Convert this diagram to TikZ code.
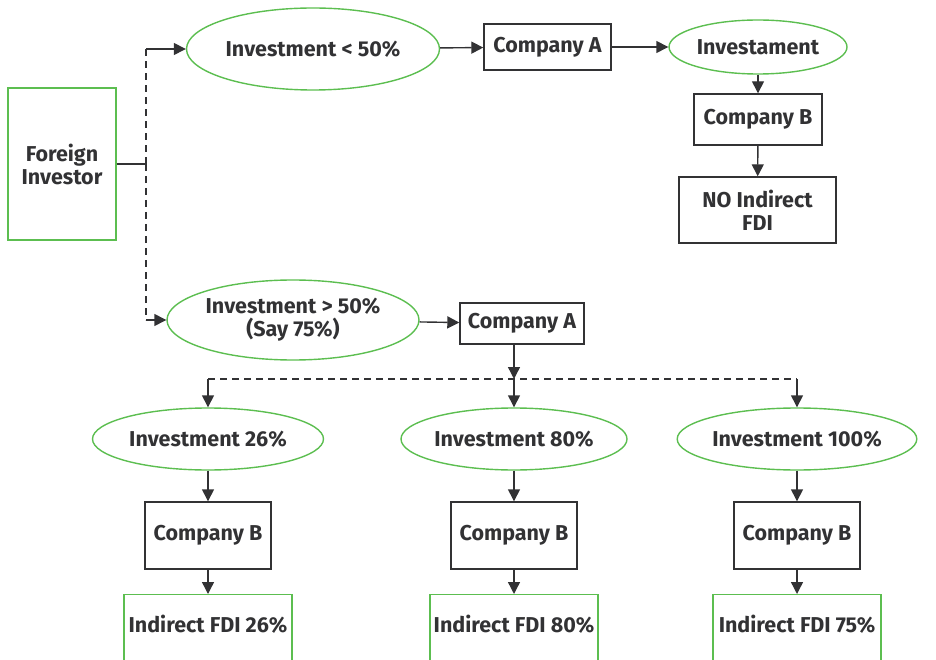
\documentclass[tikz,border=0pt]{standalone}
\usepackage{fontspec}
\setmainfont{Fira Sans}
\usetikzlibrary{arrows.meta, positioning, shapes, calc}
\definecolor{fdigreen}{RGB}{92,190,80}
\definecolor{fdigray}{RGB}{50,50,52}

\tikzset{
  oval/.style={ellipse, draw=fdigreen, line width=1.4pt, inner sep=0pt, text=fdigray,
    font=\fontsize{21.5}{23}\selectfont\bfseries, align=center},
  firm/.style={rectangle, draw=fdigray, line width=1.4pt, inner sep=0pt, text=fdigray,
    font=\fontsize{21.5}{23}\selectfont\bfseries, align=center},
  result/.style={rectangle, draw=fdigreen, line width=1.4pt, inner sep=0pt, text=fdigray,
    font=\fontsize{21.5}{23}\selectfont\bfseries, align=center},
  link/.style={draw=fdigray, line width=1.4pt, -{Triangle[length=12pt,width=12pt]}},
  plain/.style={draw=fdigray, line width=1.4pt},
  split/.style={draw=fdigray, line width=1.4pt, dash pattern=on 7pt off 5pt},
}

\begin{document}
\begin{tikzpicture}[x=10pt,y=10pt]
    \useasboundingbox (0,0) rectangle (93.6,-66);
    \clip (0,0) rectangle (93.6,-66);
    % investor and the two branches
    \node[result, minimum width=108pt, minimum height=152pt] (inv) at (6.2,-16.4) {Foreign\\Investor};
    \coordinate (fork) at (14.6,-16.4);
    \node[oval, minimum width=253pt, minimum height=82pt] (low) at (31.3,-4.9) {Investment < 50\%};
    \node[oval, minimum width=252pt, minimum height=80pt] (high) at (29.3,-32.0) {Investment > 50\%\\(Say 75\%)};
    \draw[plain] (inv.east) -- (fork);
    \draw[split] (fork) -- (fork |- low.west);
    \draw[split] (fork) -- (fork |- high.west);
    \draw[link] (fork |- low.west) -- (low.west);
    \draw[link] (fork |- high.west) -- (high.west);
    %
    \node[firm, minimum width=127pt, minimum height=46pt] (lowA) at (54.75,-4.7) {Company A};
    \node[oval, minimum width=178pt, minimum height=54pt] (lowinv) at (75.8,-4.7) {Investament};
    \node[firm, minimum width=128pt, minimum height=51pt] (lowB) at (75.8,-11.95) {Company B};
    \node[firm, minimum width=157pt, minimum height=66pt] (none) at (75.75,-21.0) {NO Indirect\\FDI};
    \draw[link] (low) -- (lowA);
    \draw[link] (lowA) -- (lowinv);
    \draw[link] (lowinv) -- (lowB);
    \draw[link] (lowB) -- (none);
    %
    \node[firm, minimum width=124pt, minimum height=41pt] (highA) at (52.2,-32.35) {Company A};
    \draw[link] (high) -- (highA);
    \coordinate (bus) at (51.4,-37.9);
    \draw[link] (highA.south -| bus) -- (bus);
    \draw[split] (20.8,-37.9) -- (79.7,-37.9);
    % three cases under company A
    \foreach \x/\w/\p/\q/\n in {20.8/231/26/26/a, 51.4/226/80/80/b, 79.7/237/100/75/c} {
      \coordinate (top\n) at (\x,-37.9);
      \node[oval, minimum width=\w pt, minimum height=62pt] (inv\n) at (\x,-43.9) {Investment \p\%};
      \node[firm, minimum width=126pt, minimum height=67pt] (comp\n) at (\x,-53.55) {Company B};
      \node[result, anchor=north, minimum width=168pt, text height=38pt, text depth=40pt] (fdi\n) at (\x,-59.4) {Indirect FDI \q\%};
      \draw[link] (top\n) -- (inv\n);
      \draw[link] (inv\n) -- (comp\n);
      \draw[link] (comp\n) -- (fdi\n);
    }
\end{tikzpicture}
\end{document}
